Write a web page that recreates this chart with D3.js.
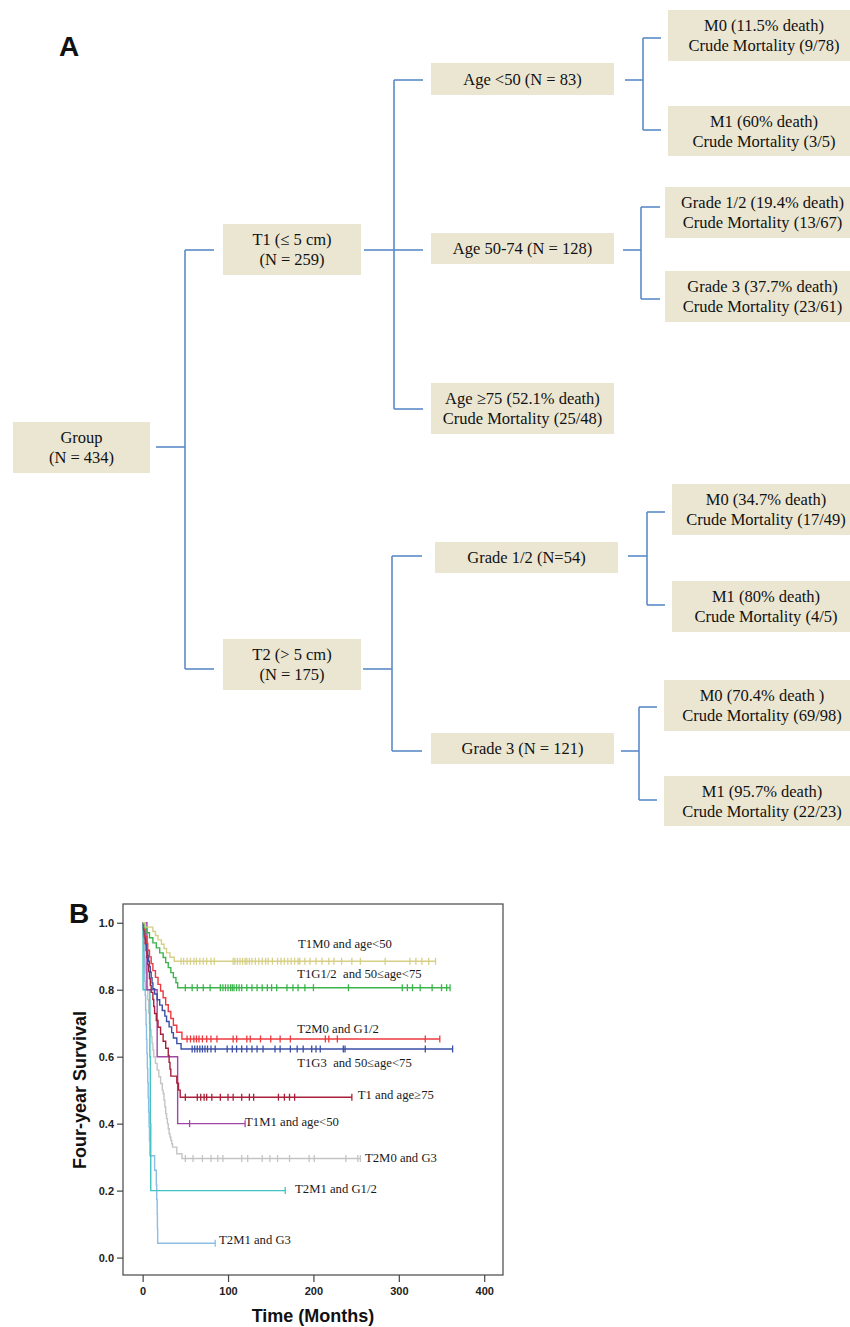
<!DOCTYPE html>
<html><head><meta charset="utf-8">
<script src="https://cdn.jsdelivr.net/npm/d3@7"></script>
<style>body{margin:0;background:#fff}svg{display:block}</style>
</head><body>
<svg id="c" width="850" height="1327"></svg>
<script>
// ================= DATA =================
// Panel A: decision tree
const treeIds     = ["root","T1","T2","A1","A2","A3","A1M0","A1M1","A2G12","A2G3","T2G12","T2G3","T2G12M0","T2G12M1","T2G3M0","T2G3M1"];
const treeParents = ["",    "root","root","T1","T1","T1","A1","A1","A2","A2","T2","T2","T2G12","T2G12","T2G3","T2G3"];
const treeLabels  = [
  ["Group","(N = 434)"],
  ["T1 (\u2264 5 cm)","(N = 259)"],
  ["T2 (> 5 cm)","(N = 175)"],
  ["Age <50 (N = 83)"],
  ["Age 50-74 (N = 128)"],
  ["Age \u226575 (52.1% death)","Crude Mortality (25/48)"],
  ["M0 (11.5% death)","Crude Mortality (9/78)"],
  ["M1 (60% death)","Crude Mortality (3/5)"],
  ["Grade 1/2 (19.4% death)","Crude Mortality (13/67)"],
  ["Grade 3 (37.7% death)","Crude Mortality (23/61)"],
  ["Grade 1/2 (N=54)"],
  ["Grade 3 (N = 121)"],
  ["M0 (34.7% death)","Crude Mortality (17/49)"],
  ["M1 (80% death)","Crude Mortality (4/5)"],
  ["M0 (70.4% death )","Crude Mortality (69/98)"],
  ["M1 (95.7% death)","Crude Mortality (22/23)"]
];

// Panel B: Kaplan-Meier curves (time in months, survival after each death)
const seriesNames = ["T2M0 and G3","T2M1 and G3","T2M1 and G1/2","T1M1 and age<50","T1 and age\u226575","T1G3  and 50\u2264age<75","T2M0 and G1/2","T1G1/2  and 50\u2264age<75","T1M0 and age<50"];

const t2m0g3Times = [0.5,1,1.5,2,2.5,3,3.5,4,5,6,7,8,9,10,11,12,13,15,17,19,21,23,24,25,26,27,28,29,30,31,32,33,34,35,40,46];
const t2m0g3Surv  = [0.98,0.96,0.94,0.92,0.90,0.88,0.86,0.85,0.81,0.77,0.73,0.70,0.68,0.66,0.64,0.62,0.60,0.58,0.56,0.54,0.52,0.50,0.49,0.47,0.45,0.43,0.415,0.40,0.385,0.37,0.36,0.35,0.34,0.33,0.31,0.296];
const t2m0g3Cens  = [50,59,70,80,88,94,116,123,140,149,158,172,195,201,238,252,255];

const t2m1g3Times = [1,1.5,2,2.5,3,3.5,4,4.5,5,5.5,6,6.5,7,7.5,8,8.5,14,16,16.5,17,17.3,17.6];
const t2m1g3Surv  = [0.957,0.913,0.870,0.826,0.783,0.739,0.696,0.652,0.609,0.565,0.522,0.478,0.435,0.391,0.348,0.304,0.261,0.217,0.174,0.130,0.087,0.043];
const t2m1g3Cens  = [85];

const t2m1g12Times = [0.5,8.5,9,9.5];
const t2m1g12Surv  = [0.8,0.6,0.4,0.2];
const t2m1g12Cens  = [167];

const t1m1Times = [5,17,41];
const t1m1Surv  = [0.8,0.6,0.4];
const t1m1Cens  = [55,120];

const t1a75Times = [1,2,3,4,5,6,7,8,9,10,12,13,14,16,18,21,24,27,30,31,32,33,40,42,44];
const t1a75Surv  = [0.979,0.958,0.938,0.917,0.896,0.875,0.854,0.833,0.813,0.792,0.771,0.750,0.729,0.708,0.688,0.667,0.646,0.625,0.604,0.583,0.563,0.542,0.521,0.500,0.479];
const t1a75Cens  = [50,64,68,72,75,81,91,100,106,116,125,130,159,166,172,178,245];

const t1g3Times = [1,2,3,4,5,6,7,8,9,10,11,12,14,17,20,23,26,28,31,34,36,40,45];
const t1g3Surv  = [0.984,0.967,0.951,0.934,0.918,0.902,0.885,0.869,0.852,0.836,0.820,0.803,0.787,0.770,0.754,0.738,0.721,0.705,0.689,0.672,0.656,0.639,0.623];
const t1g3Cens  = [58,61,64,67,70,73,76,80,85,99,105,110,116,122,128,134,141,155,161,173,181,188,198,203,208,235,237,331,363];

const t2m0g12Times = [2,3,5,6,8,10,12,15,18,21,24,27,30,33,36,40,46];
const t2m0g12Surv  = [0.980,0.959,0.939,0.918,0.898,0.878,0.857,0.837,0.816,0.796,0.776,0.755,0.735,0.714,0.694,0.673,0.653];
const t2m0g12Cens  = [52,56,60,63,66,70,75,80,87,106,110,122,126,138,150,161,173,214,218,228,331,348];

const t1g12Times = [2,5,8,12,16,20,24,27,30,33,36,39,41];
const t1g12Surv  = [0.985,0.970,0.955,0.940,0.925,0.910,0.896,0.881,0.866,0.851,0.836,0.821,0.806];
const t1g12Cens  = [50,58,64,71,79,91,94,97,100,103,105,107,110,113,116,122,128,134,140,146,151,157,169,176,182,190,200,241,304,310,316,325,339,350,356,360];

const t1m0Times = [3,12,15,18,22,25,28,32,37];
const t1m0Surv  = [0.987,0.974,0.962,0.949,0.936,0.923,0.910,0.897,0.885];
const t1m0Cens  = [45,48,52,56,60,63,67,71,75,80,84,106,108,111,114,117,120,122,125,128,132,136,140,144,147,152,158,162,166,170,174,178,182,184,190,196,203,210,218,224,233,245,255,284,313,320,327,335,343];

const xTicks = [0,100,200,300,400];
const yTicks = [0.0,0.2,0.4,0.6,0.8,1.0];

// ================= LAYOUT / STYLE =================
const boxLayout = {
  root:[13,422,150,473], T1:[223,224,361,275], T2:[223,639,361,690],
  A1:[431,63,614,95], A2:[431,233,614,264], A3:[431,383,614,434],
  A1M0:[668,10,860,61], A1M1:[668,106,860,156], A2G12:[665,187,860,238], A2G3:[665,271,860,322],
  T2G12:[435,542,618,573], T2G3:[431,733,614,764],
  T2G12M0:[672,484,860,535], T2G12M1:[672,581,860,632], T2G3M0:[664,680,860,731], T2G3M1:[664,776,860,826]
};
const stubY = {root:447,T1:250,T2:669,A1:80,A2:250,A3:409,A1M0:38,A1M1:130,A2G12:207,A2G3:299,
  T2G12:556,T2G3:751,T2G12M0:512,T2G12M1:605,T2G3M0:707,T2G3M1:800};
const elbowX = {root:[156,185,214],T1:[364,394,423],T2:[363,392,422],A1:[625,643,661],A2:[623,641,660],T2G12:[628,647,665],T2G3:[621,639,657]};

const seriesColors = ["#c4c4c4","#8dbde2","#3fc3c3","#a046a6","#a8203a","#3b4fa6","#ec3a3f","#3cb44c","#d6cf86"];
const labelPos = [[260.4,0.286],[89.5,0.041],[178.5,0.193],[120,0.393],[252,0.474],[181,0.569],[181,0.671],[181,0.835],[182,0.925]];
const seriesEnd = [255,85,167,120,245,363,348,360,343];

// ================= DRAW =================
const svg = d3.select("#c");
const serif = "'Liberation Serif','Times New Roman',serif";
const sans = "'Liberation Sans',Arial,sans-serif";

// ---- Panel A ----
svg.append("text").attr("x",59).attr("y",56).attr("font-family",sans).attr("font-weight","bold")
  .attr("font-size",28).attr("fill","#111").text("A");

const rows = treeIds.map((id,i)=>({id, parent:treeParents[i], lines:treeLabels[i]}));
const root = d3.stratify().id(d=>d.id).parentId(d=>d.parent||null)(rows);

const gA = svg.append("g");
const linkG = gA.append("g").attr("fill","none").attr("stroke","#5b8bc9").attr("stroke-width",1.6);
root.descendants().filter(n=>n.children).forEach(n=>{
  const [xa,xv,xb] = elbowX[n.id];
  const py = stubY[n.id];
  const cys = n.children.map(c=>stubY[c.id]);
  linkG.append("line").attr("x1",xa).attr("x2",xv).attr("y1",py).attr("y2",py);
  linkG.append("line").attr("x1",xv).attr("x2",xv).attr("y1",d3.min(cys)).attr("y2",d3.max(cys));
  n.children.forEach(c=>{
    linkG.append("line").attr("x1",xv).attr("x2",xb).attr("y1",stubY[c.id]).attr("y2",stubY[c.id]);
  });
});

const fs = 16.5;
const nodeG = gA.selectAll("g.node").data(root.descendants()).join("g").attr("class","node");
nodeG.append("rect")
  .attr("x",d=>boxLayout[d.id][0]).attr("y",d=>boxLayout[d.id][1])
  .attr("width",d=>boxLayout[d.id][2]-boxLayout[d.id][0])
  .attr("height",d=>boxLayout[d.id][3]-boxLayout[d.id][1])
  .attr("fill","#ebe6d1");
nodeG.each(function(d){
  const b = boxLayout[d.id];
  const cx = (b[0]+b[2])/2, cy = (b[1]+b[3])/2;
  const n = d.data.lines.length;
  d.data.lines.forEach((t,i)=>{
    d3.select(this).append("text")
      .attr("x",cx).attr("y",cy + (i-(n-1)/2)*20 + fs*0.35)
      .attr("text-anchor","middle").attr("font-family",serif).attr("font-size",fs)
      .attr("fill","#111").text(t);
  });
});

// ---- Panel B ----
const x = d3.scaleLinear().domain([-23,422]).range([123,503]);
const y = d3.scaleLinear().domain([-0.052,1.056]).range([1275,904]);

svg.append("text").attr("x",69).attr("y",923).attr("font-family",sans).attr("font-weight","bold")
  .attr("font-size",28).attr("fill","#111").text("B");

const series = [
  [t2m0g3Times,t2m0g3Surv,t2m0g3Cens],
  [t2m1g3Times,t2m1g3Surv,t2m1g3Cens],
  [t2m1g12Times,t2m1g12Surv,t2m1g12Cens],
  [t1m1Times,t1m1Surv,t1m1Cens],
  [t1a75Times,t1a75Surv,t1a75Cens],
  [t1g3Times,t1g3Surv,t1g3Cens],
  [t2m0g12Times,t2m0g12Surv,t2m0g12Cens],
  [t1g12Times,t1g12Surv,t1g12Cens],
  [t1m0Times,t1m0Surv,t1m0Cens]
].map((s,i)=>({name:seriesNames[i], times:s[0], surv:s[1], cens:s[2], color:seriesColors[i], end:seriesEnd[i], lab:labelPos[i]}));

const line = d3.line().x(d=>x(d[0])).y(d=>y(d[1])).curve(d3.curveStepAfter);
const survAt = (s,t)=>{ let v=1; s.times.forEach((tt,i)=>{ if(tt<=t) v=s.surv[i]; }); return v; };

const gB = svg.append("g");
series.forEach(s=>{
  const pts = [[0,1]].concat(s.times.map((t,i)=>[t,s.surv[i]]));
  pts.push([s.end, s.surv[s.surv.length-1]]);
  gB.append("path").attr("d",line(pts)).attr("fill","none").attr("stroke",s.color).attr("stroke-width",1.4);
  gB.append("g").selectAll("line").data(s.cens).join("line")
    .attr("x1",d=>x(d)).attr("x2",d=>x(d))
    .attr("y1",d=>y(survAt(s,d))-3.5).attr("y2",d=>y(survAt(s,d))+3.5)
    .attr("stroke",s.color).attr("stroke-width",1.3);
});
series.forEach(s=>{
  gB.append("text").attr("x",x(s.lab[0])).attr("y",y(s.lab[1]))
    .attr("font-family",serif).attr("font-size",12.7).attr("fill","#1a1a1a")
    .style("white-space","pre").text(s.name);
});

// frame
svg.append("rect").attr("x",123).attr("y",904).attr("width",380).attr("height",371)
  .attr("fill","none").attr("stroke","#555").attr("stroke-width",1.3);

// axes
const yAxis = svg.append("g").attr("transform","translate(123,0)")
  .call(d3.axisLeft(y).tickValues(yTicks).tickFormat(d3.format(".1f")).tickSize(6).tickPadding(3));
const xAxis = svg.append("g").attr("transform","translate(0,1275)")
  .call(d3.axisBottom(x).tickValues(xTicks).tickFormat(d3.format("d")).tickSize(7).tickPadding(5));
[yAxis,xAxis].forEach(a=>{
  a.select(".domain").remove();
  a.selectAll(".tick line").attr("stroke","#444").attr("stroke-width",1.2);
  a.selectAll(".tick text").attr("font-family",sans).attr("font-weight","bold").attr("font-size",11).attr("fill","#222");
});

svg.append("text").attr("x",313).attr("y",1322).attr("text-anchor","middle")
  .attr("font-family",sans).attr("font-weight","bold").attr("font-size",18).attr("fill","#111").text("Time (Months)");
svg.append("text").attr("transform","translate(86,1090) rotate(-90)").attr("text-anchor","middle")
  .attr("font-family",sans).attr("font-weight","bold").attr("font-size",18).attr("fill","#111").text("Four-year Survival");
</script>
</body></html>
